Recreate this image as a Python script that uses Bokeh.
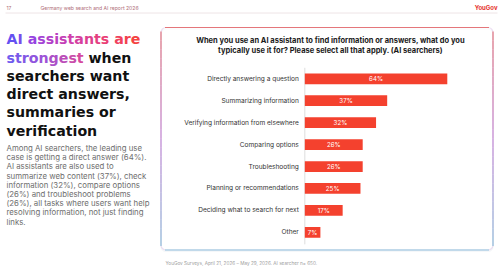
from bokeh.plotting import figure
from bokeh.models import ColumnDataSource, Range1d, BoxAnnotation
from bokeh.core.properties import value
from bokeh.embed import file_html
from bokeh.resources import INLINE

# ---- survey data -----------------------------------------------------------
categories = [
    "Directly answering a question",
    "Summarizing information",
    "Verifying information from elsewhere",
    "Comparing options",
    "Troubleshooting",
    "Planning or recommendations",
    "Deciding what to search for next",
    "Other",
]
shares = [64, 37, 32, 26, 26, 25, 17, 7]
share_labels = [f"{v}%" for v in shares]

chart_title = [
    "When you use an AI assistant to find information or answers, what do you",
    "typically use it for? Please select all that apply. (AI searchers)",
]
headline_color_lines = ["AI assistants are", "strongest"]
headline_dark = ["when", "searchers want", "direct answers,", "summaries or", "verification"]
body_lines = [
    "Among AI searchers, the leading use",
    "case is getting a direct answer (64%).",
    "AI assistants are also used to",
    "summarize web content (37%), check",
    "information (32%), compare options",
    "(26%) and troubleshoot problems",
    "(26%), all tasks where users want help",
    "resolving information, not just finding",
    "links.",
]
footer_text = "YouGov Surveys, April 21, 2026 \u2013 May 29, 2026. AI searcher n= 650."

# ---- page canvas: default ranges are page pixels (y grows downward) ------
W, H = 500, 271
p = figure(width=W, height=H, x_range=Range1d(0, W), y_range=Range1d(H, 0),
           output_backend="svg", toolbar_location=None, min_border=0,
           x_axis_location=None, y_axis_location=None)
p.grid.visible = False
p.outline_line_color = None
p.background_fill_color = "white"
p.border_fill_color = "white"

# bar scale: percent on x, row index on y
p.extra_x_ranges = {"pct": Range1d(-136.7, 87.9)}
p.extra_y_ranges = {"row": Range1d(8.787, -3.570)}

SANS = "Inter"
HEAD = "DejaVu Sans"
RED = "#f4412e"


def rgb(h):
    h = h.lstrip("#")
    return tuple(int(h[i:i + 2], 16) for i in (0, 2, 4))


def ramp(stops, t):
    """Colour at position t along a list of (position, hex) stops."""
    if t <= stops[0][0]:
        return stops[0][1]
    for (t0, c0), (t1, c1) in zip(stops[:-1], stops[1:]):
        if t <= t1:
            f = (t - t0) / (t1 - t0)
            a, b = rgb(c0), rgb(c1)
            return "#%02x%02x%02x" % tuple(int(u + (v - u) * f) for u, v in zip(a, b))
    return stops[-1][1]


# ---- header ----------------------------------------------------------------
p.segment(x0=[5], y0=[12.5], x1=[497], y1=[12.5], line_color="#eadde0", line_width=0.8)
p.text(x=[6], y=[7], text=["17"], text_font=value(SANS), text_font_size="5px",
       text_color="#b0707a", text_baseline="middle")
p.text(x=[40], y=[7], text=["Germany web search and AI report 2026"], text_font=value(SANS),
       text_font_size="5.1px", text_color="#b0707a", text_baseline="middle")
p.text(x=[497], y=[7], text=["YouGov"], text_font=value(SANS), text_font_size="6px",
       text_font_style="bold", text_color="#e5312b", text_baseline="middle", text_align="right")

# ---- headline --------------------------------------------------------------
HS = 14.2
base = [38.7, 57.0, 75.2, 93.5, 111.7, 130.0]
# advance widths (em) of DejaVu Sans Bold for the gradient-coloured letters
adv = {"A": 0.774, "I": 0.372, "a": 0.675, "s": 0.595, "i": 0.343, "t": 0.478,
       "n": 0.712, "r": 0.493, "e": 0.678, "o": 0.687, "g": 0.716, " ": 0.348}
grad = [
    [(6, "#5656f5"), (30, "#9444e4"), (70, "#cf3fae"), (110, "#ef406c"), (138, "#f5443c")],
    [(6, "#6a5cf2"), (45, "#a053d6"), (84, "#dc4a98")],
]
gx, gy, gt, gc = [], [], [], []
for li, line in enumerate(headline_color_lines):
    x = 6.0
    for ch in line:
        w = adv[ch] * HS
        if ch != " ":
            gx.append(x)
            gy.append(base[li])
            gt.append(ch)
            gc.append(ramp(grad[li], x + w / 2))
        x += w
p.text(x=gx, y=gy, text=gt, text_color=gc, text_font=value(HEAD), text_font_size=f"{HS}px",
       text_font_style="bold", text_baseline="alphabetic")

p.text(x=[88, 6, 6, 6, 6], y=base[1:], text=headline_dark, text_color="#111111",
       text_font=value(HEAD), text_font_size=f"{HS}px", text_font_style="bold",
       text_baseline="alphabetic")

# ---- body paragraph --------------------------------------------------------
p.text(x=[6] * len(body_lines), y=[147.5 + 9.2 * i for i in range(len(body_lines))],
       text=body_lines, text_font=value(SANS), text_font_size="7.8px",
       text_color="#6e6e6e", text_baseline="middle")

# ---- chart panel with gradient border -------------------------------------
L, R, T, B = 160.5, 492.5, 27.0, 249.5
p.add_layout(BoxAnnotation(left=L, right=R, top=T + 1.5, bottom=B + 1.5, border_radius=5,
                           fill_color=None, line_color="#dfe6ea", line_width=1.2,
                           level="underlay"))
p.add_layout(BoxAnnotation(left=L, right=R, top=T, bottom=B, border_radius=5,
                           fill_color="white", line_color="#c797d3", line_width=1.2,
                           level="underlay"))

edge = [(0.0, "#e4767a"), (0.5, "#c78ed8"), (1.0, "#8cc2dc")]
n = 24
ys = [T + 4 + (B - T - 8) * k / n for k in range(n + 1)]
cols = [ramp(edge, ((ys[k] + ys[k + 1]) / 2 - T) / (B - T)) for k in range(n)]
for xe in (L, R):
    p.segment(x0=[xe] * n, x1=[xe] * n, y0=ys[:-1], y1=ys[1:], line_color=cols, line_width=1.2)
p.segment(x0=[L + 4], x1=[R - 4], y0=[T], y1=[T], line_color=edge[0][1], line_width=1.2)
p.segment(x0=[L + 4], x1=[R - 4], y0=[B], y1=[B], line_color=edge[-1][1], line_width=1.2)

p.text(x=[330, 330], y=[40, 50], text=chart_title, text_font=value(SANS), text_font_size="7.5px",
       text_font_style="bold", text_color="#1a1a1a", text_align="center", text_baseline="middle")

# ---- bars ------------------------------------------------------------------
src = ColumnDataSource(dict(
    row=list(range(len(categories))),
    cat=categories,
    share=shares,
    mid=[v / 2 for v in shares],
    lab=share_labels,
))
p.segment(x0=[0], x1=[0], y0=[-0.5], y1=[len(categories) - 0.45], x_range_name="pct",
          y_range_name="row", line_color="#d6d6d6", line_width=0.8)
p.hbar(y="row", left=0, right="share", height=0.49, source=src, x_range_name="pct",
       y_range_name="row", fill_color=RED, line_color=None)
p.text(x="mid", y="row", text="lab", source=src, x_range_name="pct", y_range_name="row",
       text_font=value(SANS), text_font_size="6.2px", text_color="white",
       text_align="center", text_baseline="middle")
p.text(x=0, y="row", text="cat", source=src, x_range_name="pct", y_range_name="row",
       x_offset=-6, text_font=value(SANS), text_font_size="6.55px", text_color="#333333",
       text_align="right", text_baseline="middle")

# ---- footer ----------------------------------------------------------------
p.text(x=[165], y=[262.3], text=[footer_text], text_font=value(SANS), text_font_size="4.7px",
       text_color="#a0a0a0", text_baseline="middle")

open("out.html", "w").write(file_html(p, INLINE))
